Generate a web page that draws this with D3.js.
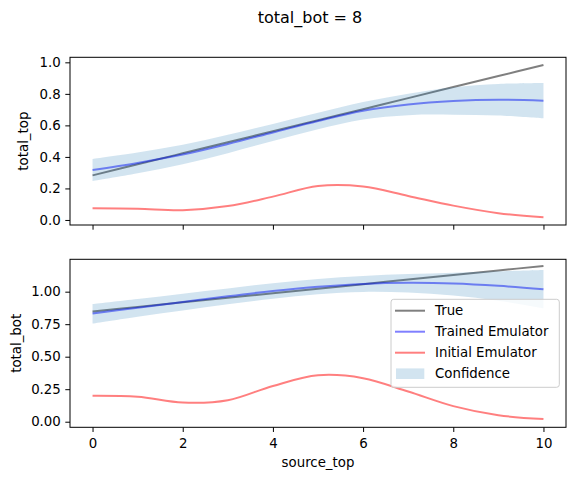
<!DOCTYPE html>
<html>
<head>
<meta charset="utf-8">
<script src="https://cdn.jsdelivr.net/npm/d3@7"></script>
<style>
  body { margin: 0; background: #fff; }
  text { font-family: "DejaVu Sans", sans-serif; fill: #000; }
</style>
</head>
<body>
<div id="chart"></div>
<script>
// Emulator check for total_bot = 8, two panels sharing the x axis
const gridX = [0, 1, 2, 3, 4, 5, 6, 7, 8, 9, 10];
const xTicks = [0, 2, 4, 6, 8, 10];

// top panel: total_top
const topTrue = [0.283, 0.353, 0.423, 0.493, 0.563, 0.633, 0.703, 0.773, 0.843, 0.913, 0.983];
const topTrained = [0.317, 0.362, 0.415, 0.482, 0.555, 0.628, 0.693, 0.733, 0.755, 0.763, 0.757];
const topInitial = [0.074, 0.071, 0.062, 0.088, 0.148, 0.215, 0.212, 0.152, 0.091, 0.043, 0.017];
const topUpper = [0.387, 0.428, 0.477, 0.540, 0.609, 0.680, 0.748, 0.801, 0.842, 0.863, 0.869];
const topLower = [0.247, 0.296, 0.353, 0.424, 0.501, 0.576, 0.638, 0.665, 0.668, 0.663, 0.645];
const topTicks = [0.0, 0.2, 0.4, 0.6, 0.8, 1.0];

// bottom panel: total_bot
const botTrue = [0.848, 0.883, 0.918, 0.953, 0.988, 1.023, 1.058, 1.093, 1.128, 1.163, 1.198];
const botTrained = [0.832, 0.877, 0.921, 0.965, 1.005, 1.038, 1.060, 1.068, 1.063, 1.045, 1.018];
const botInitial = [0.200, 0.192, 0.147, 0.165, 0.275, 0.357, 0.335, 0.232, 0.120, 0.050, 0.020];
const botUpper = [0.905, 0.944, 0.985, 1.025, 1.065, 1.097, 1.120, 1.135, 1.145, 1.157, 1.167];
const botLower = [0.755, 0.808, 0.855, 0.903, 0.945, 0.980, 0.998, 0.993, 0.970, 0.930, 0.872];
const botTicks = [0.00, 0.25, 0.50, 0.75, 1.00];

const legendLabels = ["True", "Trained Emulator", "Initial Emulator", "Confidence"];

const width = 576, height = 480;
const left = 70, right = 566;
const fontSize = 13.33;

const svg = d3.select("#chart")
    .append("svg")
    .attr("width", width)
    .attr("height", height);

const x = d3.scaleLinear().domain([-0.5, 10.5]).range([left, right]);

const lineColors = { true: "black", trained: "blue", initial: "red" };
const bandColor = "#1f77b4";

function drawPanel(opts) {
    const y = d3.scaleLinear().domain(opts.domain).range([opts.bottom, opts.top]);
    const g = svg.append("g");

    const line = d3.line()
        .x((d, i) => x(gridX[i]))
        .y(d => y(d))
        .curve(d3.curveCatmullRom.alpha(0.5));

    const area = d3.area()
        .x((d, i) => x(gridX[i]))
        .y0(d => y(d[0]))
        .y1(d => y(d[1]))
        .curve(d3.curveCatmullRom.alpha(0.5));

    [[opts.trueVals, lineColors.true], [opts.trained, lineColors.trained], [opts.initial, lineColors.initial]]
        .forEach(([vals, c]) => {
            g.append("path")
                .attr("d", line(vals))
                .attr("fill", "none")
                .attr("stroke", c)
                .attr("stroke-opacity", 0.5)
                .attr("stroke-width", 2);
        });

    g.append("path")
        .attr("d", area(opts.lower.map((v, i) => [v, opts.upper[i]])))
        .attr("fill", bandColor)
        .attr("fill-opacity", 0.2);

    // y axis
    const yAxis = g.append("g")
        .attr("transform", `translate(${left},0)`)
        .call(d3.axisLeft(y).tickValues(opts.ticks).tickFormat(d3.format(opts.fmt))
            .tickSize(4.7).tickPadding(4.5));
    yAxis.select(".domain").remove();
    yAxis.selectAll("text").style("font-size", fontSize + "px").attr("fill", "#000")
        .style("font-family", "DejaVu Sans");
    yAxis.selectAll("line").attr("stroke", "#000").attr("stroke-width", 1);

    // x axis
    const xAxis = g.append("g")
        .attr("transform", `translate(0,${opts.bottom})`)
        .call(d3.axisBottom(x).tickValues(xTicks).tickSize(4.7).tickPadding(6.5)
            .tickFormat(opts.showX ? d3.format("d") : ""));
    xAxis.select(".domain").remove();
    xAxis.selectAll("text").style("font-size", fontSize + "px").attr("fill", "#000")
        .style("font-family", "DejaVu Sans");
    xAxis.selectAll("line").attr("stroke", "#000").attr("stroke-width", 1);

    // frame
    g.append("rect")
        .attr("x", left)
        .attr("y", opts.top)
        .attr("width", right - left)
        .attr("height", opts.bottom - opts.top)
        .attr("fill", "none")
        .attr("stroke", "#000")
        .attr("stroke-width", 1);

    // y label
    g.append("text")
        .attr("transform", `translate(${opts.labelX},${(opts.top + opts.bottom) / 2}) rotate(-90)`)
        .attr("text-anchor", "middle")
        .style("font-size", fontSize + "px")
        .text(opts.label);

    return { g, y };
}

drawPanel({
    top: 57.3, bottom: 225, domain: [-0.032, 1.032],
    trueVals: topTrue, trained: topTrained, initial: topInitial,
    upper: topUpper, lower: topLower,
    ticks: topTicks, fmt: ".1f", showX: false,
    label: "total_top", labelX: 28
});

const bot = drawPanel({
    top: 259.3, bottom: 427.3, domain: [-0.043, 1.249],
    trueVals: botTrue, trained: botTrained, initial: botInitial,
    upper: botUpper, lower: botLower,
    ticks: botTicks, fmt: ".2f", showX: true,
    label: "total_bot", labelX: 21
});

// x label
svg.append("text")
    .attr("x", (left + right) / 2)
    .attr("y", 467.3)
    .attr("text-anchor", "middle")
    .style("font-size", fontSize + "px")
    .text("source_top");

// title
svg.append("text")
    .attr("x", 310)
    .attr("y", 22.5)
    .attr("text-anchor", "middle")
    .style("font-size", "16px")
    .text("total_bot = 8");

// legend
const legend = bot.g.append("g").attr("transform", "translate(391,299.3)");
legend.append("rect")
    .attr("width", 168.3)
    .attr("height", 88)
    .attr("rx", 2.7)
    .attr("fill", "#fff")
    .attr("fill-opacity", 0.8)
    .attr("stroke", "#cccccc")
    .attr("stroke-width", 1);

const legendColors = [lineColors.true, lineColors.trained, lineColors.initial];
legendLabels.forEach((lab, i) => {
    const cy = 11.4 + i * 21;
    if (i < 3) {
        legend.append("line")
            .attr("x1", 4).attr("x2", 34)
            .attr("y1", cy).attr("y2", cy)
            .attr("stroke", legendColors[i])
            .attr("stroke-opacity", 0.5)
            .attr("stroke-width", 2);
    } else {
        legend.append("rect")
            .attr("x", 5).attr("y", cy - 5.3)
            .attr("width", 28.3).attr("height", 10.6)
            .attr("fill", bandColor)
            .attr("fill-opacity", 0.2);
    }
    legend.append("text")
        .attr("x", 44)
        .attr("y", cy)
        .attr("dy", "0.35em")
        .style("font-size", fontSize + "px")
        .text(lab);
});
</script>
</body>
</html>
